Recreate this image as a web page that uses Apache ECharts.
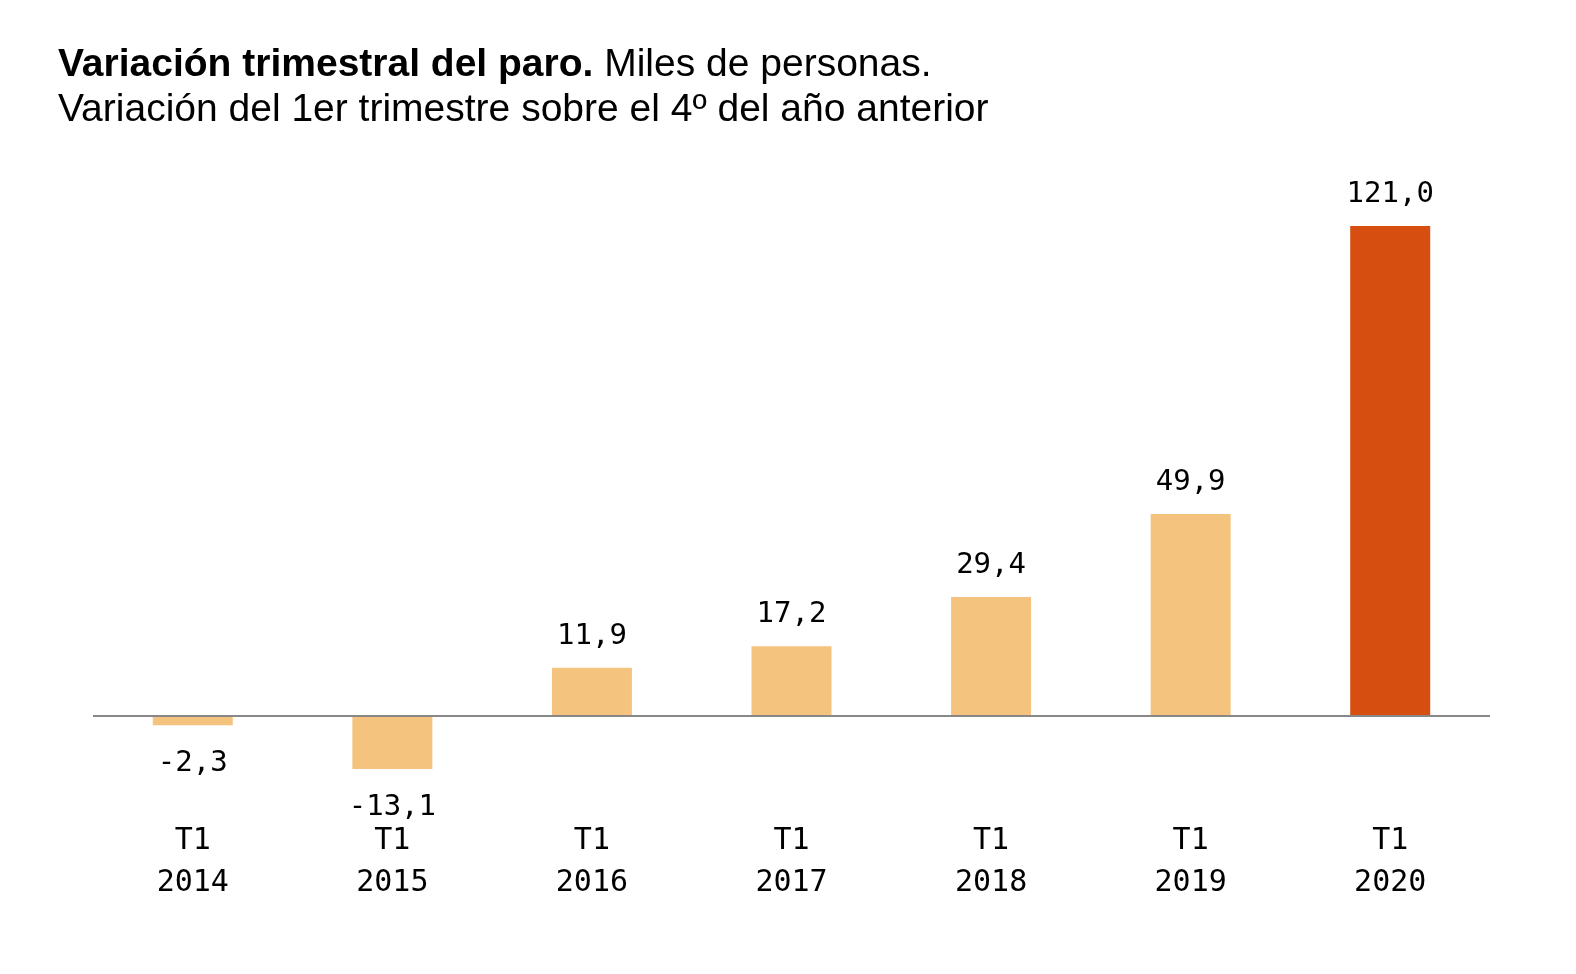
<!DOCTYPE html>
<html>
<head>
<meta charset="utf-8">
<script src="https://cdn.jsdelivr.net/npm/echarts@6/dist/echarts.min.js"></script>
<style>
  html, body { margin: 0; padding: 0; background: #ffffff; }
  #chart { width: 1576px; height: 974px; }
</style>
</head>
<body>
<div id="chart"></div>
<script>
// data
const quarters = ['T1', 'T1', 'T1', 'T1', 'T1', 'T1', 'T1'];
const years = ['2014', '2015', '2016', '2017', '2018', '2019', '2020'];
const values = [-2.3, -13.1, 11.9, 17.2, 29.4, 49.9, 121.0];

const lightColor = '#F4C47F';
const darkColor = '#D64E10';

const chart = echarts.init(document.getElementById('chart'));

const categories = quarters.map((q, i) => q + '\n' + years[i]);

// negative bars get their label underneath
const seriesData = values.map((v, i) => ({
  value: v,
  itemStyle: { color: i === values.length - 1 ? darkColor : lightColor },
  label: v < 0 ? { position: 'bottom', distance: 24 } : { position: 'top', distance: 17 }
}));

const option = {
  backgroundColor: '#ffffff',
  animation: false,
  title: {
    left: 53,
    top: 38,
    text: '{b|Variación trimestral del paro.} Miles de personas.\nVariación del 1er trimestre sobre el 4º del año anterior',
    textStyle: {
      fontFamily: '"Liberation Sans", Arial, sans-serif',
      fontSize: 39,
      fontWeight: 'normal',
      color: '#000000',
      lineHeight: 45,
      rich: {
        b: {
          fontFamily: '"Liberation Sans", Arial, sans-serif',
          fontSize: 39,
          fontWeight: 'bold',
          color: '#000000',
          lineHeight: 45
        }
      }
    }
  },
  grid: {
    left: 93,
    right: 86,
    top: 189.5,
    bottom: 177,
    outerBoundsMode: 'none'
  },
  xAxis: {
    type: 'category',
    data: categories,
    axisLine: { show: false, onZero: false },
    axisTick: { show: false },
    axisLabel: {
      margin: 23,
      color: '#000000',
      fontFamily: '"DejaVu Sans Mono", monospace',
      fontSize: 30,
      lineHeight: 42
    }
  },
  yAxis: {
    type: 'value',
    min: -20,
    max: 130,
    show: false,
    splitLine: { show: false }
  },
  series: [
    {
      type: 'bar',
      data: seriesData,
      barWidth: 80,
      label: {
        show: true,
        color: '#000000',
        fontFamily: '"DejaVu Sans Mono", monospace',
        fontSize: 29,
        formatter: p => p.value.toFixed(1).replace('.', ',')
      },
      // zero line
      markLine: {
        silent: true,
        symbol: 'none',
        label: { show: false },
        lineStyle: { color: '#888888', width: 2, type: 'solid' },
        data: [{ yAxis: 0 }]
      }
    }
  ]
};

chart.setOption(option);
</script>
</body>
</html>
